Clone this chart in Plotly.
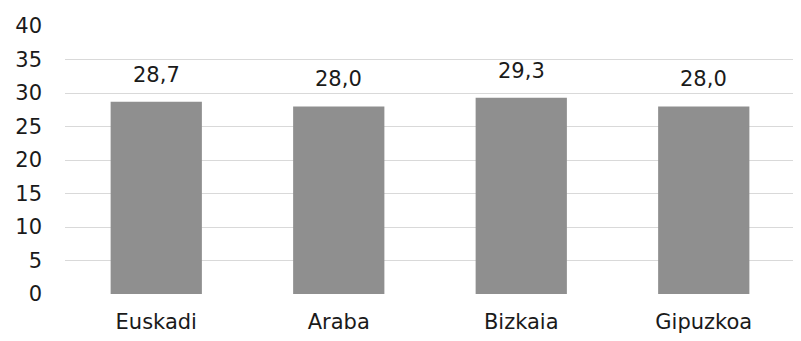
import plotly.graph_objects as go

categories = ["Euskadi", "Araba", "Bizkaia", "Gipuzkoa"]
values = [28.7, 28.0, 29.3, 28.0]
labels = ["28,7", "28,0", "29,3", "28,0"]

font_family = "DejaVu Sans, Verdana, sans-serif"

fig = go.Figure()
fig.add_trace(go.Bar(
    x=categories, y=values,
    marker=dict(color="#8f8f8f", line=dict(width=0)),
    width=0.5,
))

# etiquetas de valor encima de las barras
for c, v, t in zip(categories, values, labels):
    fig.add_annotation(x=c, y=v, text=t, showarrow=False,
                       yanchor="bottom", yshift=13,
                       font=dict(size=21, color="#1a1a1a", family=font_family))

# la página tiene 8px de margen en el body
fig.update_layout(
    width=793, height=333,
    margin=dict(l=57, r=6, t=13, b=47),
    paper_bgcolor="white", plot_bgcolor="white",
    showlegend=False,
    font=dict(family=font_family, size=21, color="#1a1a1a"),
)
fig.update_xaxes(showgrid=False, showline=False, ticks="",
                 ticklabelstandoff=13, tickfont=dict(size=21))
fig.update_yaxes(range=[0, 40], dtick=5, showgrid=True,
                 gridcolor="#d9d9d9", gridwidth=1.3, zeroline=False,
                 showline=False, ticks="", ticklabelstandoff=22,
                 tickfont=dict(size=21))

fig.write_html("out.html")
